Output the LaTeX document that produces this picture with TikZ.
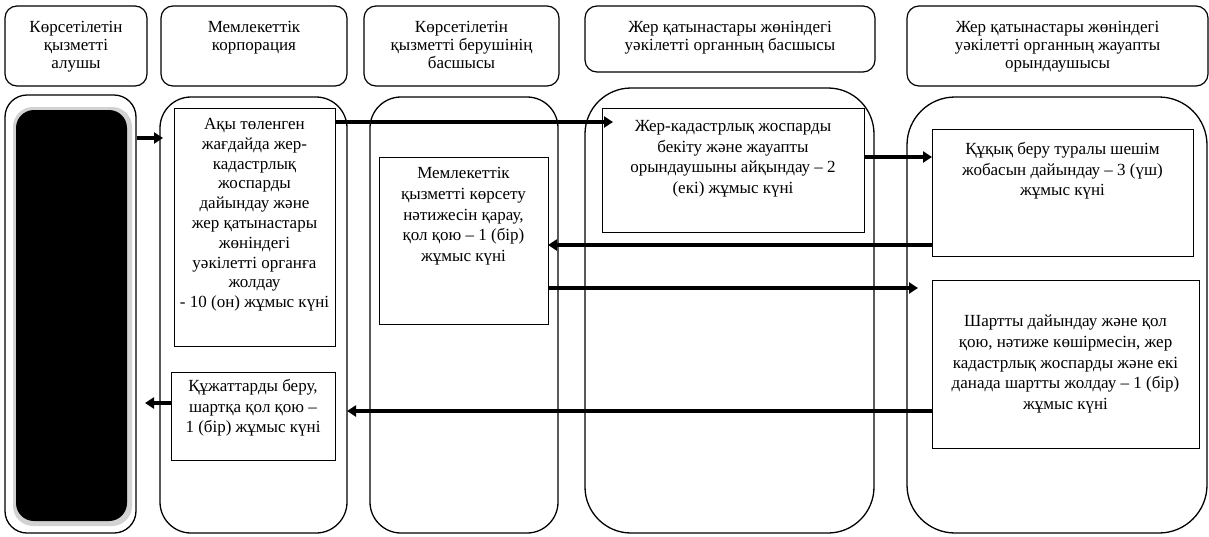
\documentclass[tikz,border=0pt]{standalone}
\usepackage{fontspec}
\setmainfont{Liberation Serif}
\usetikzlibrary{calc, positioning, arrows.meta}

\tikzset{
  lane/.style={draw, line width=1.3pt, anchor=north west, inner sep=0pt, outer sep=0pt},
  headbox/.style={draw, line width=1.2pt, rounded corners=12pt, anchor=north west, inner sep=0pt, outer sep=0pt},
  stepbox/.style={draw, line width=1pt, anchor=north west, inner sep=0pt, outer sep=0pt},
  headtxt/.style={align=center, inner sep=0pt, font=\fontsize{17}{17.8}\selectfont},
  boxtxt/.style={align=center, inner sep=0pt, font=\fontsize{17}{20.8}\selectfont},
  arr/.style={line width=3.5pt, -{Triangle[length=9pt,width=11pt]}},
}

\begin{document}
\begin{tikzpicture}[x=1pt, y=-1pt]
        \useasboundingbox (0,0) rectangle (1209,536);

        % headers
        \node[headbox, minimum width=142pt, minimum height=80pt] (h1) at (5,6) {};
        \node[headbox, minimum width=186pt, minimum height=80pt] (h2) at (161,6) {};
        \node[headbox, minimum width=195pt, minimum height=80pt] (h3) at (364,6) {};
        \node[headbox, minimum width=290pt, minimum height=66pt] (h4) at (585,6) {};
        \node[headbox, minimum width=301pt, minimum height=80pt] (h5) at (907,6) {};
        \node[headtxt, below=15pt of h1.north] (h1t) {Көрсетілетін\\қызметті\\алушы};
        \node[headtxt, below=15pt of h2.north] (h2t) {Мемлекеттік\\корпорация};
        \node[headtxt, below=15pt of h3.north] (h3t) {Көрсетілетін\\қызметті берушінің\\басшысы};
        \node[headtxt, below=15pt of h4.north] (h4t) {Жер қатынастары жөніндегі\\уәкілетті органның басшысы};
        \node[headtxt, below=15pt of h5.north] (h5t) {Жер қатынастары жөніндегі\\уәкілетті органның жауапты\\орындаушысы};

        % lanes
        \node[lane, rounded corners=22pt, minimum width=131pt, minimum height=438pt] (lane1) at (5,95) {};
        \node[lane, rounded corners=31pt, minimum width=187pt, minimum height=436pt] (lane2) at (160,97) {};
        \node[lane, rounded corners=31pt, minimum width=188pt, minimum height=436pt] (lane3) at (370,97) {};
        \node[lane, rounded corners=46pt, minimum width=289pt, minimum height=445pt] (lane4) at (585,88) {};
        \node[lane, rounded corners=48pt, minimum width=300pt, minimum height=436pt] (lane5) at (907,97) {};

        % black plate in the first lane
        \fill[gray!35, rounded corners=20pt] (13,107) rectangle (132,526);
        \fill[black, rounded corners=18pt] (16,110) rectangle (127,521);

        % steps
        \node[stepbox, minimum width=161pt, minimum height=238pt] (akyb) at (174,108) {};
        \node[stepbox, minimum width=169pt, minimum height=167pt] (memb) at (379,157) {};
        \node[stepbox, minimum width=262pt, minimum height=124pt] (kadb) at (602,108) {};
        \node[stepbox, minimum width=261pt, minimum height=127pt] (kukb) at (932,129) {};
        \node[stepbox, minimum width=267pt, minimum height=168pt] (shartb) at (932,280) {};
        \node[stepbox, minimum width=164pt, minimum height=88pt] (kuzhb) at (171,372) {};

        \node[boxtxt, font=\fontsize{17}{19.8}\selectfont, below=10pt of akyb.north] (akyt) {Ақы төленген\\жағдайда жер-\\кадастрлық\\жоспарды\\дайындау және\\жер қатынастары\\жөніндегі\\уәкілетті органға\\жолдау\\- 10 (он) жұмыс күні};
        \node[boxtxt, below=10pt of memb.north] (memt) {Мемлекеттік\\қызметті көрсету\\нәтижесін қарау,\\қол қою – 1 (бір)\\жұмыс күні};
        \node[boxtxt, below=12pt of kadb.north] (kadt) {Жер-кадастрлық жоспарды\\бекіту және жауапты\\орындаушыны айқындау – 2\\(екі) жұмыс күні};
        \node[boxtxt, below=13pt of kukb.north] (kukt) {Құқық беру туралы шешім\\жобасын дайындау – 3 (үш)\\жұмыс күні};
        \node[boxtxt] (shartt) at (shartb.center) {Шартты дайындау және қол\\қою, нәтиже көшірмесін, жер\\кадастрлық жоспарды және екі\\данада шартты жолдау – 1 (бір)\\жұмыс күні};
        \node[boxtxt, below=7pt of kuzhb.north] (kuzht) {Құжаттарды беру,\\шартқа қол қою –\\1 (бір) жұмыс күні};

        % arrows
        \draw[arr] ($(lane1.north east)+(1,43)$) -- ($(lane2.north west)+(3,41)$);
        \draw[arr] ($(akyb.north east)+(0,14)$) -- ($(kadb.north west)+(11,14)$);
        \draw[arr] ($(kadb.north east)+(0,49)$) -- ($(kukb.north west)+(0,28)$);
        \draw[arr] ($(kukb.south west)+(0,-11)$) -- ($(memb.north east)+(0,88)$);
        \draw[arr] ($(memb.north east)+(0,131)$) -- ($(shartb.north west)+(-14,8)$);
        \draw[arr] ($(shartb.north west)+(0,131)$) -- ($(kuzhb.north east)+(12,39)$);
        \draw[arr] ($(kuzhb.north west)+(0,31)$) -- ($(lane1.north east)+(9,308)$);

    \end{tikzpicture}
\end{document}
